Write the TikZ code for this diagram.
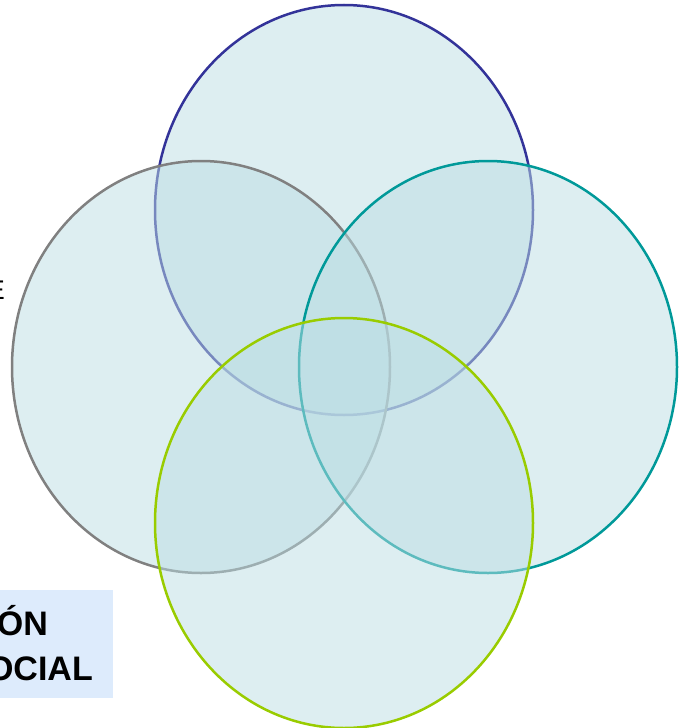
\documentclass[tikz,border=0pt]{standalone}
\usepackage{fontspec}
\setmainfont{Liberation Sans}
\definecolor{vfill}{RGB}{187,221,227}
\definecolor{ctop}{RGB}{51,51,153}
\definecolor{cleft}{RGB}{128,128,128}
\definecolor{cright}{RGB}{0,153,153}
\definecolor{cbot}{RGB}{153,204,0}
\definecolor{boxfill}{RGB}{221,235,252}
\begin{document}
\begin{tikzpicture}[x=1pt,y=-1pt,
  venn/.style={fill=vfill,fill opacity=0.5,line width=2.5pt},
  lbl/.style={inner sep=0pt,font=\fontsize{34}{36}\selectfont\bfseries,text=black}]
\useasboundingbox (0,0) rectangle (682,728);
\node[inner sep=0pt,anchor=east,font=\fontsize{27}{30}\selectfont] (e) at (5,290) {E};
\draw[venn,draw=ctop] (344,210) ellipse [x radius=189,y radius=205];
\draw[venn,draw=cleft] (201,367) ellipse [x radius=189,y radius=206];
\draw[venn,draw=cright] (488,367) ellipse [x radius=189,y radius=206];
\draw[venn,draw=cbot] (344,523) ellipse [x radius=189,y radius=205];
\fill[boxfill] (-20,590) rectangle (113,698);
\node[lbl,anchor=base east] (t1) at (48,635) {ÓN};
\node[lbl,anchor=base east] (t2) at (93,680) {OCIAL};
\end{tikzpicture}
\end{document}
